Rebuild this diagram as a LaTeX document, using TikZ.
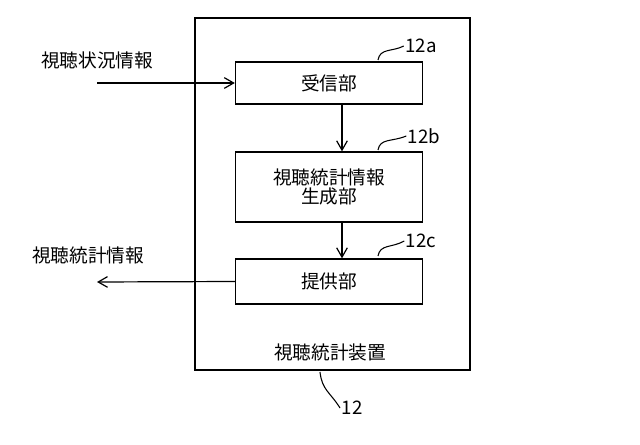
\documentclass[tikz,border=0pt]{standalone}
\usepackage{fontspec}
\setmainfont{Noto Sans CJK JP}
\usetikzlibrary{arrows.meta}
\begin{document}
\begin{tikzpicture}[x=0.75pt,y=-0.75pt,
  blk/.style={draw,line width=1pt,minimum width=140.25pt,align=center,inner sep=1pt,font=\fontsize{14}{16}\selectfont},
  lbl/.style={font=\fontsize{14}{16}\selectfont,inner sep=1pt},
  arr/.style={-{Straight Barb[length=7pt,width=8pt]},line width=0.9pt},
  lead/.style={line width=0.8pt}]
\useasboundingbox (0,0) rectangle (640,445);
\draw[line width=1pt] (195,18) rectangle (470,370);
\node[blk,minimum height=31.5pt] (r) at (329,83) {受信部};
\node[blk,minimum height=52.5pt] (g) at (329,187) {視聴統計情報\\[-2pt]生成部};
\node[blk,minimum height=33.75pt] (p) at (329,281.5) {提供部};
\node[lbl] (dev) at (330,352) {視聴統計装置};
\node[lbl] (in) at (97,60) {視聴状況情報};
\node[lbl] (out) at (88,255) {視聴統計情報};
\coordinate (ia) at (97,83);
\coordinate (oa) at (97,282);
\draw[arr] (ia) -- (r.west);
\draw[arr] (p.west) -- (oa);
\draw[arr] (r.south -| 342,0) -- (g.north -| 342,0);
\draw[arr] (g.south -| 342,0) -- (p.north -| 342,0);
\node[lbl] (la) at (421,46) {12a};
\node[lbl] (lb) at (424,136) {12b};
\node[lbl] (lc) at (421,241) {12c};
\node[lbl] (ld) at (352,408) {12};
\draw[lead] (378,60) .. controls (380,48) and (392,52) .. (la.west);
\draw[lead] (378,150) .. controls (380,138) and (392,142) .. (lb.west);
\draw[lead] (378,256) .. controls (380,244) and (392,248) .. (lc.west);
\draw[lead] (320,372) .. controls (322,390) and (330,392) .. (ld.west);
\end{tikzpicture}
\end{document}
